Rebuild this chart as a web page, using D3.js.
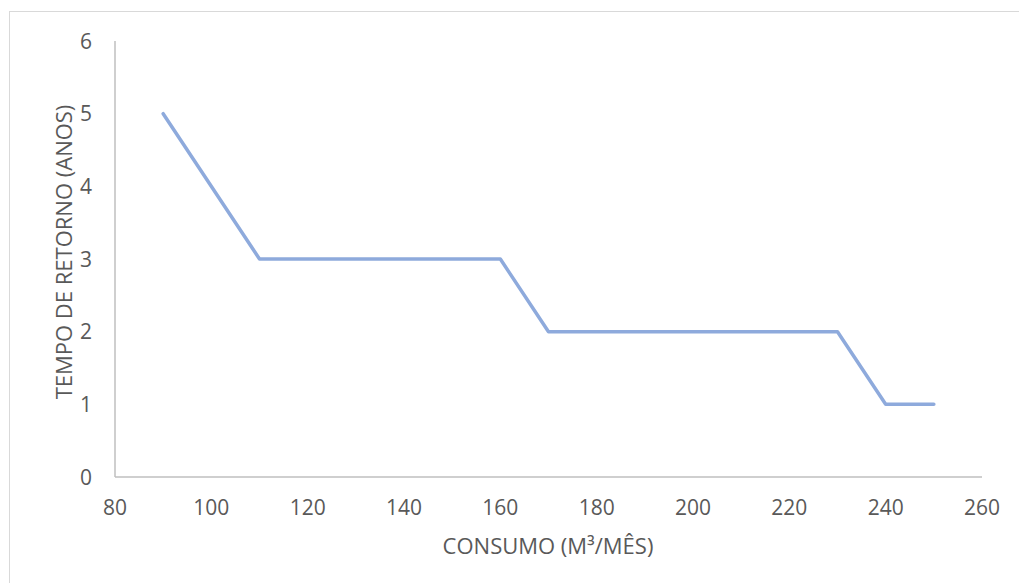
<!DOCTYPE html>
<html><head><meta charset="utf-8">
<script src="https://cdn.jsdelivr.net/npm/d3@7"></script>
<style>html,body{margin:0;padding:0;background:#fff;}svg{display:block;}</style>
</head><body>
<svg id="c" width="1019" height="583"></svg>
<script>
const consumo = [90, 110, 160, 170, 230, 240, 250];
const tempo = [5, 3, 3, 2, 2, 1, 1];
const xTicks = [80, 100, 120, 140, 160, 180, 200, 220, 240, 260];
const yTicks = [0, 1, 2, 3, 4, 5, 6];
const xTitle = "CONSUMO (M³/MÊS)";
const yTitle = "TEMPO DE RETORNO (ANOS)";

const svg = d3.select("#c");
const font = "'Open Sans', sans-serif";
const txt = "#595959";
const axisCol = "#bfbfbf";

// outer frame (only top/left visible in reference)
svg.append("rect").attr("x", 9.5).attr("y", 11.5).attr("width", 1040).attr("height", 620)
  .attr("fill", "none").attr("stroke", "#d9d9d9").attr("stroke-width", 1);

const x = d3.scaleLinear().domain([80, 260]).range([115, 982]);
const y = d3.scaleLinear().domain([0, 6]).range([477, 41]);

// axes lines
svg.append("line").attr("x1", x(80)).attr("x2", x(260)).attr("y1", y(0)).attr("y2", y(0))
  .attr("stroke", axisCol).attr("stroke-width", 1.5);
svg.append("line").attr("x1", x(80)).attr("x2", x(80)).attr("y1", y(0)).attr("y2", y(6))
  .attr("stroke", axisCol).attr("stroke-width", 1.5);

// tick labels
svg.append("g").selectAll("text").data(xTicks).join("text")
  .attr("x", d => x(d)).attr("y", 515).attr("text-anchor", "middle")
  .attr("font-family", font).attr("font-size", 21).attr("fill", txt).text(d => d);
svg.append("g").selectAll("text").data(yTicks).join("text")
  .attr("x", 92).attr("y", d => y(d) + 7.5).attr("text-anchor", "end")
  .attr("font-family", font).attr("font-size", 21).attr("fill", txt).text(d => d);

// titles
svg.append("text").attr("x", 548).attr("y", 554).attr("text-anchor", "middle")
  .attr("font-family", font).attr("font-size", 22).attr("fill", txt).text(xTitle);
svg.append("text").attr("transform", "translate(72,252) rotate(-90)").attr("text-anchor", "middle")
  .attr("font-family", font).attr("font-size", 22).attr("fill", txt).text(yTitle);

// line
const data = consumo.map((c, i) => [c, tempo[i]]);
svg.append("path").datum(data)
  .attr("d", d3.line().x(d => x(d[0])).y(d => y(d[1])))
  .attr("fill", "none").attr("stroke", "#8eaadc").attr("stroke-width", 3.5)
  .attr("stroke-linejoin", "round").attr("stroke-linecap", "round");
</script>
</body></html>
